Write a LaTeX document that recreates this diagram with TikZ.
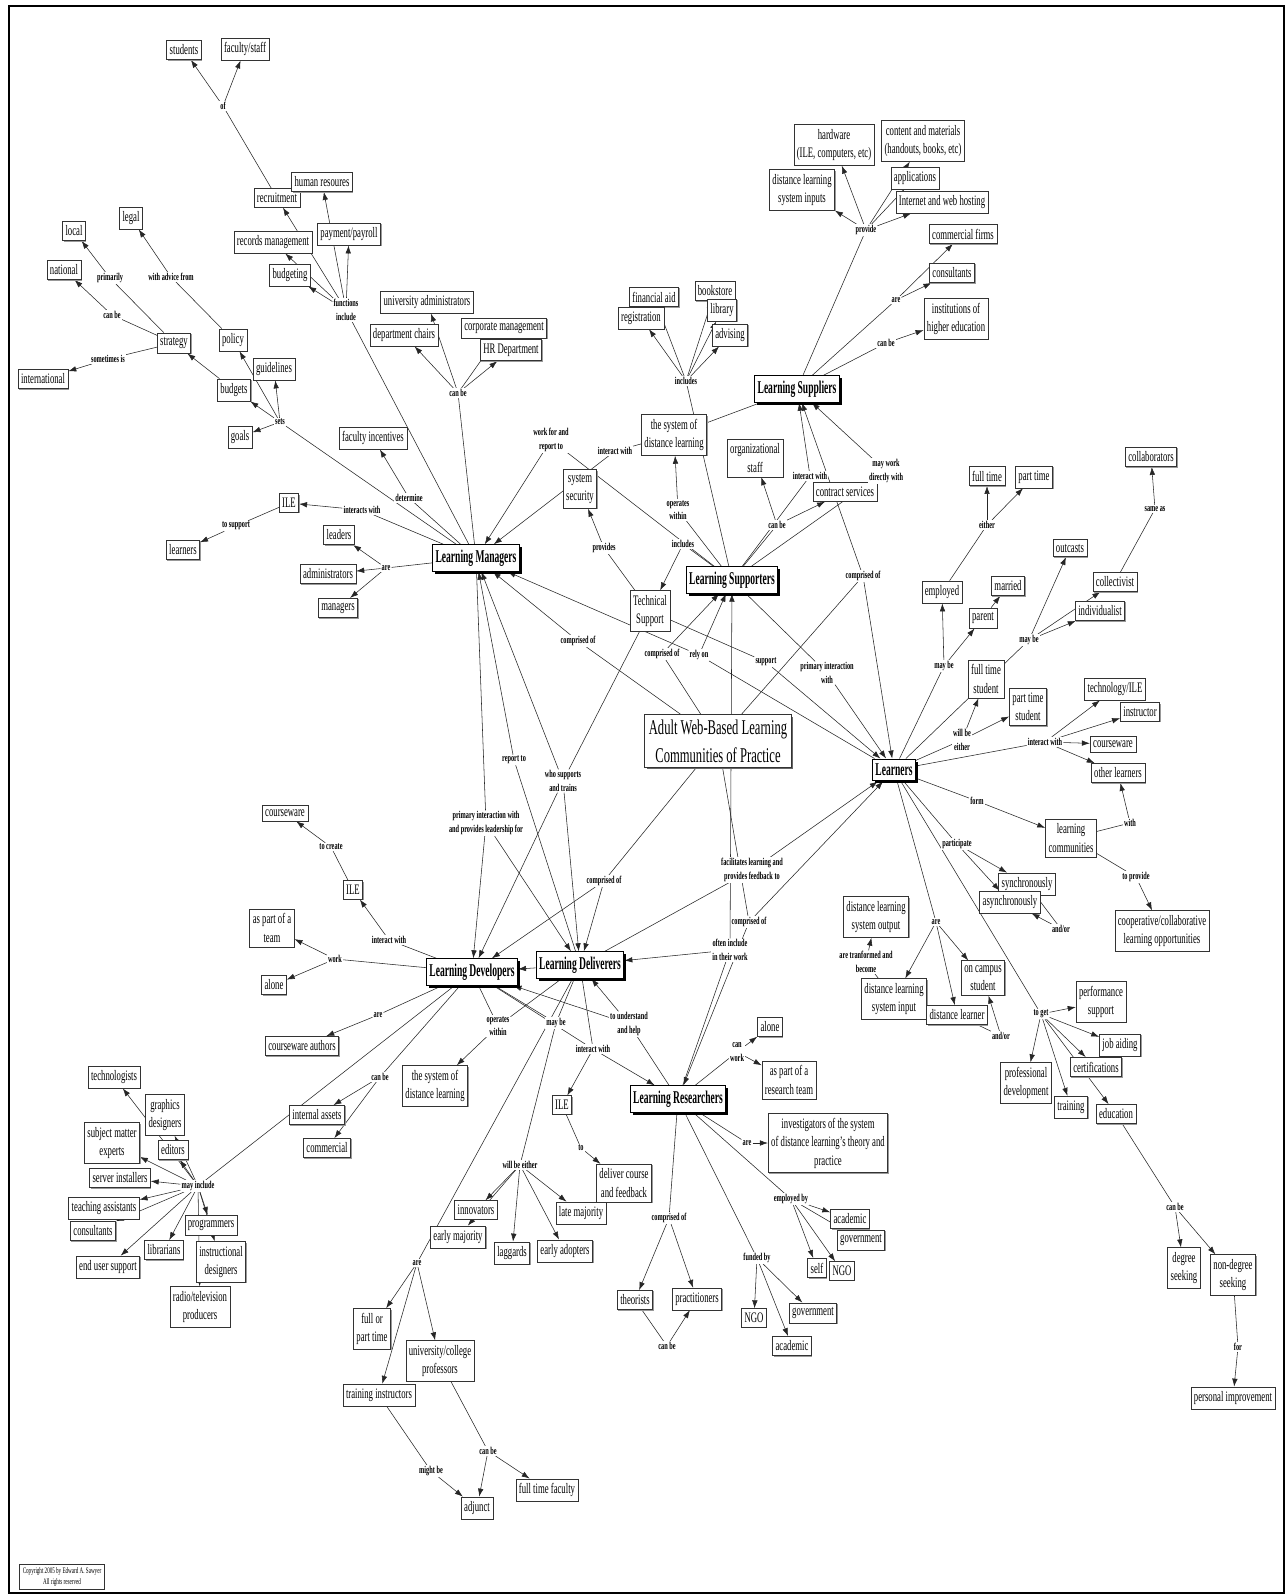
\documentclass[tikz,border=0pt]{standalone}
\usepackage{fontspec}
\setmainfont{Liberation Serif}[FakeStretch=0.6]
\newfontfamily\mbf{Liberation Serif}[FakeStretch=0.6]
\newfontfamily\hbf{Liberation Serif}[FakeStretch=0.53]
\usetikzlibrary{arrows.meta,shadows}
\pgfdeclarelayer{back}
\pgfdeclarelayer{bg}
\pgfsetlayers{back,bg,main}
\begin{document}
\begin{tikzpicture}[x=1pt,y=-1pt,
 box/.style={draw=black!80, fill=white, line width=0.6pt, inner xsep=3pt, inner ysep=4.5pt, align=center,
   font=\fontsize{14.5}{18.5}\selectfont, drop shadow={shadow xshift=1pt, shadow yshift=-1pt, fill=black!40, opacity=1}},
 mainbox/.style={draw=black, fill=white, line width=1pt, inner xsep=3pt, inner ysep=5pt, align=center,
   font=\hbf\bfseries\fontsize{18}{20}\selectfont, drop shadow={shadow xshift=2.5pt, shadow yshift=-2.5pt, fill=black, opacity=1}},
 lab/.style={fill=white, inner sep=1pt, align=center, font=\mbf\bfseries\fontsize{10.5}{13.5}\selectfont},
 ln/.style={draw=black!85, line width=0.55pt},
 ar/.style={ln, -{Latex[length=8pt,width=5.5pt]}}]
\useasboundingbox (0,0) rectangle (1288,1596);
\begin{pgfonlayer}{back}
\fill[white] (0,0) rectangle (1288,1596);
\end{pgfonlayer}
\draw[line width=2.5pt] (9,6) rectangle (1284,1593);

% main concepts
\node[box, line width=1pt, inner xsep=4pt, inner ysep=5pt, font=\fontsize{21}{28}\selectfont, drop shadow={shadow xshift=2pt, shadow yshift=-2pt, fill=black!60, opacity=1}] (adult) at (718,741) {Adult Web-Based Learning\\Communities of Practice};
\node[mainbox] (lm) at (476,558) {Learning Managers};
\node[mainbox] (lsup) at (732,580) {Learning Supporters};
\node[mainbox] (lsupl) at (797,389) {Learning Suppliers};
\node[mainbox] (lrn) at (894,770) {Learners};
\node[mainbox] (ldev) at (472,972) {Learning Developers};
\node[mainbox] (ldel) at (580,965) {Learning Deliverers};
\node[mainbox] (lres) at (678,1099) {Learning Researchers};

% concept boxes
\node[box] (t1) at (184,50) {students};
\node[box] (t2) at (245,49) {faculty/staff};
\node[box] (t3) at (277,198) {recruitment};
\node[box] (t4) at (322,182) {human resoures};
\node[box] (t5) at (273,242) {records management};
\node[box] (t6) at (349,234) {payment/payroll};
\node[box] (t7) at (290,275) {budgeting};
\node[box] (t8) at (74,231) {local};
\node[box] (t9) at (131,218) {legal};
\node[box] (t10) at (64,270) {national};
\node[box] (t11) at (174,343) {strategy};
\node[box] (t12) at (233,340) {policy};
\node[box] (t13) at (43,379) {international};
\node[box] (t14) at (274,369) {guidelines};
\node[box] (t15) at (234,390) {budgets};
\node[box] (t16) at (240,437) {goals};
\node[box] (t17) at (373,438) {faculty incentives};
\node[box] (t18) at (289,503) {ILE};
\node[box] (t19) at (183,550) {learners};
\node[box] (t20) at (339,535) {leaders};
\node[box] (t21) at (328,574) {administrators};
\node[box] (t22) at (338,608) {managers};
\node[box] (t23) at (427,302) {university administrators};
\node[box] (t24) at (404,335) {department chairs};
\node[box] (t25) at (504,328) {corporate management};
\node[box] (t26) at (511,350) {HR Department};
\node[box] (t27) at (654,297) {financial aid};
\node[box] (t28) at (641,318) {registration};
\node[box] (t29) at (715,291) {bookstore};
\node[box] (t30) at (722,310) {library};
\node[box] (t31) at (730,335) {advising};
\node[box] (t32) at (834,145) {hardware\\(ILE, computers, etc)};
\node[box] (t33) at (802,190) {distance learning\\system inputs};
\node[box] (t34) at (923,141) {content and materials\\(handouts, books, etc)};
\node[box] (t35) at (915,178) {applications};
\node[box] (t36) at (942,202) {Internet and web hosting};
\node[box] (t37) at (963,234) {commercial firms};
\node[box] (t38) at (952,273) {consultants};
\node[box] (t39) at (956,319) {institutions of\\higher education};
\node[box] (t40) at (580,489) {system\\security};
\node[box] (t41) at (674,435) {the system of\\distance learning};
\node[box] (t42) at (755,458) {organizational\\staff};
\node[box] (t43) at (845,492) {contract services};
\node[box] (t44) at (650,611) {Technical\\Support};
\node[box] (t45) at (987,476) {full time};
\node[box] (t46) at (1034,477) {part time};
\node[box] (t47) at (1151,457) {collaborators};
\node[box] (t48) at (1070,548) {outcasts};
\node[box] (t49) at (1115,582) {collectivist};
\node[box] (t50) at (1100,611) {individualist};
\node[box] (t51) at (942,592) {employed};
\node[box] (t52) at (1008,586) {married};
\node[box] (t53) at (983,618) {parent};
\node[box] (t54) at (986,679) {full time\\student};
\node[box] (t55) at (1028,707) {part time\\student};
\node[box] (t56) at (1115,689) {technology/ILE};
\node[box] (t57) at (1140,712) {instructor};
\node[box] (t58) at (1113,744) {courseware};
\node[box] (t59) at (1118,773) {other learners};
\node[box] (t60) at (1071,838) {learning\\communities};
\node[box] (t61) at (1162,931) {cooperative/collaborative\\learning opportunities};
\node[box] (t62) at (1027,884) {synchronously};
\node[box] (t63) at (1010,902) {asynchronously};
\node[box] (t64) at (876,917) {distance learning\\system output};
\node[box] (t65) at (894,999) {distance learning\\system input};
\node[box] (t66) at (983,978) {on campus\\student};
\node[box] (t67) at (957,1015) {distance learner};
\node[box] (t68) at (1101,1002) {performance\\support};
\node[box] (t69) at (1120,1045) {job aiding};
\node[box] (t70) at (1096,1067) {certifications};
\node[box] (t71) at (1026,1083) {professional\\development};
\node[box] (t72) at (1071,1107) {training};
\node[box] (t73) at (1116,1114) {education};
\node[box] (t74) at (1184,1268) {degree\\seeking};
\node[box] (t75) at (1233,1275) {non-degree\\seeking};
\node[box] (t76) at (1233,1398) {personal improvement};
\node[box] (t77) at (285,813) {courseware};
\node[box] (t78) at (353,890) {ILE};
\node[box] (t79) at (272,928) {as part of a\\team};
\node[box] (t80) at (274,985) {alone};
\node[box] (t81) at (302,1046) {courseware authors};
\node[box] (t82) at (317,1115) {internal assets};
\node[box] (t83) at (327,1148) {commercial};
\node[box] (t84) at (435,1086) {the system of\\distance learning};
\node[box] (t85) at (114,1077) {technologists};
\node[box] (t86) at (165,1115) {graphics\\designers};
\node[box] (t87) at (112,1143) {subject matter\\experts};
\node[box] (t88) at (173,1150) {editors};
\node[box] (t89) at (120,1178) {server installers};
\node[box] (t90) at (104,1208) {teaching assistants};
\node[box] (t91) at (93,1231) {consultants};
\node[box] (t92) at (211,1225) {programmers};
\node[box] (t93) at (164,1250) {librarians};
\node[box] (t94) at (108,1267) {end user support};
\node[box] (t95) at (221,1262) {instructional\\designers};
\node[box] (t96) at (200,1307) {radio/television\\producers};
\node[box] (t97) at (372,1329) {full or\\part time};
\node[box] (t98) at (440,1361) {university/college\\professors};
\node[box] (t99) at (379,1395) {training instructors};
\node[box] (t100) at (477,1508) {adjunct};
\node[box] (t101) at (547,1490) {full time faculty};
\node[box] (t102) at (770,1027) {alone};
\node[box] (t103) at (789,1080) {as part of a\\research team};
\node[box] (t104) at (562,1105) {ILE};
\node[box] (t105) at (828,1143) {investigators of the system\\of distance learning's theory and\\practice};
\node[box] (t106) at (624,1183) {deliver course\\and feedback};
\node[box] (t107) at (476,1210) {innovators};
\node[box] (t108) at (581,1213) {late majority};
\node[box] (t109) at (458,1237) {early majority};
\node[box] (t110) at (512,1253) {laggards};
\node[box] (t111) at (565,1251) {early adopters};
\node[box] (t112) at (635,1300) {theorists};
\node[box] (t113) at (697,1299) {practitioners};
\node[box] (t114) at (754,1318) {NGO};
\node[box] (t115) at (813,1313) {government};
\node[box] (t116) at (792,1346) {academic};
\node[box] (t117) at (817,1268) {self};
\node[box] (t118) at (842,1271) {NGO};
\node[box] (t119) at (850,1219) {academic};
\node[box] (t120) at (861,1240) {government};
\node[draw=black!80, fill=white, line width=0.6pt, inner sep=3pt, align=center, font=\fontsize{8.5}{11.5}\selectfont] (copy) at (62,1577) {Copyright 2005 by Edward A. Sawyer\\All rights reserved};

% link labels
\node[lab] (lof) at (223,106) {of};
\node[lab] (lfi) at (346,310) {functions\\include};
\node[lab] (lprim) at (110,278) {primarily};
\node[lab] (lwaf) at (171,277) {with advice from};
\node[lab] (lcb1) at (112,315) {can be};
\node[lab] (lsome) at (108,359) {sometimes is};
\node[lab] (lsets) at (280,422) {sets};
\node[lab] (ldet) at (409,498) {determine};
\node[lab] (lintw) at (362,510) {interacts with};
\node[lab] (ltos) at (236,526) {to support};
\node[lab] (lare1) at (386,568) {are};
\node[lab] (lcb2) at (458,393) {can be};
\node[lab] (linc1) at (686,381) {includes};
\node[lab] (lprov) at (866,230) {provide};
\node[lab] (lare2) at (896,300) {are};
\node[lab] (lcb3) at (886,343) {can be};
\node[lab] (lwfrt) at (551,440) {work for and\\report to};
\node[lab] (lia1) at (615,451) {interact with};
\node[lab] (lia2) at (810,476) {interact with};
\node[lab] (low1) at (678,510) {operates\\within};
\node[lab] (lprovs) at (604,548) {provides};
\node[lab] (linc2) at (683,544) {includes};
\node[lab] (lcb4) at (777,525) {can be};
\node[lab] (lmwdw) at (886,471) {may work\\directly with};
\node[lab] (lco1) at (578,641) {comprised of};
\node[lab] (lco2) at (662,654) {comprised of};
\node[lab] (lrely) at (699,655) {rely on};
\node[lab] (lsupp) at (766,662) {support};
\node[lab] (lpiw) at (827,673) {primary interaction\\with};
\node[lab] (lco3) at (863,576) {comprised of};
\node[lab] (lrep) at (514,760) {report to};
\node[lab] (lwsat) at (563,781) {who supports\\and trains};
\node[lab] (leith) at (987,525) {either};
\node[lab] (lsame) at (1155,509) {same as};
\node[lab] (lmb1) at (1029,640) {may be};
\node[lab] (lmb2) at (944,666) {may be};
\node[lab] (lwbe1) at (962,740) {will be\\either};
\node[lab] (lia3) at (1045,742) {interact with};
\node[lab] (lform) at (977,801) {form};
\node[lab] (lwith) at (1130,823) {with};
\node[lab] (ltop) at (1136,877) {to provide};
\node[lab] (lpart) at (957,844) {participate};
\node[lab] (lao1) at (1061,929) {and/or};
\node[lab] (lare3) at (936,922) {are};
\node[lab] (latab) at (866,962) {are tranformed and\\become};
\node[lab] (lao2) at (1001,1036) {and/or};
\node[lab] (lget) at (1041,1014) {to get};
\node[lab] (lcb5) at (1175,1207) {can be};
\node[lab] (lfor) at (1238,1347) {for};
\node[lab] (ltoc) at (331,847) {to create};
\node[lab] (lia4) at (389,940) {interact with};
\node[lab] (lwork) at (335,959) {work};
\node[lab] (lare4) at (378,1015) {are};
\node[lab] (lcb6) at (380,1077) {can be};
\node[lab] (lmayi) at (198,1186) {may include};
\node[lab] (lpiwpl) at (486,823) {primary interaction with\\and provides leadership for};
\node[lab] (lco4) at (604,881) {comprised of};
\node[lab] (lflpf) at (752,870) {facilitates learning and\\provides feedback to};
\node[lab] (lco5) at (749,922) {comprised of};
\node[lab] (loft) at (730,950) {often include\\in their work};
\node[lab] (low2) at (498,1026) {operates\\within};
\node[lab] (lmb3) at (556,1023) {may be};
\node[lab] (ltuah) at (629,1024) {to understand\\and help};
\node[lab] (lia5) at (593,1049) {interact with};
\node[lab] (lcw) at (737,1052) {can\\work};
\node[lab] (lare5) at (747,1143) {are};
\node[lab] (lto) at (581,1148) {to};
\node[lab] (lwbe2) at (520,1165) {will be either};
\node[lab] (lemp) at (791,1199) {employed by};
\node[lab] (lco6) at (669,1218) {comprised of};
\node[lab] (lfund) at (757,1258) {funded by};
\node[lab] (lcb7) at (667,1346) {can be};
\node[lab] (lare6) at (417,1263) {are};
\node[lab] (lmight) at (431,1471) {might be};
\node[lab] (lcb8) at (488,1451) {can be};

\begin{pgfonlayer}{bg}
% top left
\draw[ln] (t3) -- (lof); \foreach \n in {t1,t2} \draw[ar] (lof) -- (\n);
\draw[ln] (lm) -- (lfi); \foreach \n in {t3,t4,t5,t6,t7} \draw[ar] (lfi) -- (\n);
\draw[ln] (t12) -- (lwaf); \draw[ar] (lwaf) -- (t9);
\draw[ln] (t11) -- (lprim); \draw[ar] (lprim) -- (t8);
\draw[ln] (t11) -- (lcb1); \draw[ar] (lcb1) -- (t10);
\draw[ln] (t11) -- (lsome); \draw[ar] (lsome) -- (t13);
\draw[ar] (t15) -- (t11);
\draw[ln] (lm) -- (lsets); \foreach \n in {t12,t14,t15,t16} \draw[ar] (lsets) -- (\n);
\draw[ln] (lm) -- (ldet); \draw[ar] (ldet) -- (t17);
\draw[ln] (lm) -- (lintw); \draw[ar] (lintw) -- (t18);
\draw[ln] (t18) -- (ltos); \draw[ar] (ltos) -- (t19);
\draw[ln] (lm) -- (lare1); \foreach \n in {t20,t21,t22} \draw[ar] (lare1) -- (\n);
\draw[ln] (lm) -- (lcb2); \foreach \n in {t23,t24,t25,t26} \draw[ar] (lcb2) -- (\n);
% top centre / right
\draw[ln] (lsup) -- (linc1); \foreach \n in {t27,t28,t29,t30,t31} \draw[ar] (linc1) -- (\n);
\draw[ln] (lsupl) -- (lprov); \foreach \n in {t32,t33,t34,t35,t36} \draw[ar] (lprov) -- (\n);
\draw[ln] (lsupl) -- (lare2); \foreach \n in {t37,t38} \draw[ar] (lare2) -- (\n);
\draw[ln] (lsupl) -- (lcb3); \draw[ar] (lcb3) -- (t39);
\draw[ln] (t41) -- (lsupl);
\draw[ln] (lsup) -- (lwfrt); \draw[ar] (lwfrt) -- (lm);
\draw[ln] (t41) -- (lia1); \draw[ar] (lia1) -- (lm);
\draw[ln] (lsup) -- (low1); \draw[ar] (low1) -- (t41);
\draw[ln] (t44) -- (lprovs); \draw[ar] (lprovs) -- (t40);
\draw[ln] (lsup) -- (linc2); \draw[ar] (linc2) -- (t44);
\draw[ln] (lsup) -- (lcb4); \foreach \n in {t42,t43} \draw[ar] (lcb4) -- (\n);
\draw[ln] (lsup) -- (lia2); \draw[ar] (lia2) -- (lsupl);
\draw[ln] (lsup) -- (lmwdw); \draw[ar] (lmwdw) -- (lsupl);
% centre
\draw[ln] (adult) -- (lco1); \draw[ar] (lco1) -- (lm);
\draw[ln] (adult) -- (lco2); \draw[ar] (lco2) -- (lsup);
\draw[ln] (lrn) -- (lrely); \draw[ar] (lrely) -- (lsup); \draw[ar] (lrely) -- (lm);
\draw[ln] (t44) -- (lsupp); \draw[ar] (lsupp) -- (lrn);
\draw[ln] (lsup) -- (lpiw); \draw[ar] (lpiw) -- (lrn);
\draw[ln] (adult) -- (lco3); \draw[ar] (lco3) -- (lsupl); \draw[ar] (lco3) -- (lrn);
\draw[ln] (ldel) -- (lrep); \draw[ar] (lrep) -- (lm);
\draw[ln] (t44) -- (lwsat); \foreach \n in {lm,ldev,ldel} \draw[ar] (lwsat) -- (\n);
\draw[ln] (lm) -- (lpiwpl); \foreach \n in {ldev,ldel} \draw[ar] (lpiwpl) -- (\n);
\draw[ln] (adult) -- (lco4); \foreach \n in {ldev,ldel} \draw[ar] (lco4) -- (\n);
\draw[ln] (ldel) -- (lflpf); \draw[ar] (lflpf) -- (lrn);
\draw[ln] (adult) -- (lco5); \draw[ar] (lco5) -- (lres); \draw[ar] (lco5) -- (lrn);
\draw[ln] (lres) -- (loft); \draw[ar] (loft) -- (ldel); \draw[ar] (loft) -- (lsup);
\draw[ar] (ldel) -- (ldev);
% learners
\draw[ln] (lrn) -- (lmb2); \foreach \n in {t51,t53} \draw[ar] (lmb2) -- (\n);
\draw[ar] (t53) -- (t52);
\draw[ln] (t51) -- (leith); \foreach \n in {t45,t46} \draw[ar] (leith) -- (\n);
\draw[ln] (lrn) -- (lmb1); \foreach \n in {t48,t49,t50} \draw[ar] (lmb1) -- (\n);
\draw[ln] (t49) -- (lsame); \draw[ar] (lsame) -- (t47);
\draw[ln] (lrn) -- (lwbe1); \foreach \n in {t54,t55} \draw[ar] (lwbe1) -- (\n);
\draw[ln] (lrn) -- (lia3); \foreach \n in {t56,t57,t58,t59} \draw[ar] (lia3) -- (\n);
\draw[ln] (lrn) -- (lform); \draw[ar] (lform) -- (t60);
\draw[ln] (t60) -- (lwith); \draw[ar] (lwith) -- (t59);
\draw[ln] (t60) -- (ltop); \draw[ar] (ltop) -- (t61);
\draw[ln] (lrn) -- (lpart); \foreach \n in {t62,t63} \draw[ar] (lpart) -- (\n);
\draw[ln] (t62) -- (lao1); \draw[ar] (lao1) -- (t63);
\draw[ln] (lrn) -- (lare3); \foreach \n in {t65,t66,t67} \draw[ar] (lare3) -- (\n);
\draw[ln] (t65) -- (latab); \draw[ar] (latab) -- (t64);
\draw[ln] (t67) -- (lao2); \draw[ar] (lao2) -- (t66);
\draw[ln] (lrn) -- (lget); \foreach \n in {t68,t69,t70,t71,t72,t73} \draw[ar] (lget) -- (\n);
\draw[ln] (t73) -- (lcb5); \foreach \n in {t74,t75} \draw[ar] (lcb5) -- (\n);
\draw[ln] (t75) -- (lfor); \draw[ar] (lfor) -- (t76);
% developers
\draw[ln] (t78) -- (ltoc); \draw[ar] (ltoc) -- (t77);
\draw[ln] (ldev) -- (lia4); \draw[ar] (lia4) -- (t78);
\draw[ln] (ldev) -- (lwork); \foreach \n in {t79,t80} \draw[ar] (lwork) -- (\n);
\draw[ln] (ldev) -- (lare4); \draw[ar] (lare4) -- (t81);
\draw[ln] (ldev) -- (lcb6); \foreach \n in {t82,t83} \draw[ar] (lcb6) -- (\n);
\draw[ln] (ldev) -- (lmayi); \foreach \n in {t85,t86,t87,t88,t89,t90,t91,t92,t93,t94,t95,t96} \draw[ar] (lmayi) -- (\n);
\draw[ln] (ldev) -- (low2); \draw[ln] (ldel) -- (low2); \draw[ar] (low2) -- (t84);
\draw[ln] (ldev) -- (lmb3); \draw[ln] (ldel) -- (lmb3); \draw[ln] (lmb3) -- (lwbe2);
\foreach \n in {t107,t108,t109,t110,t111} \draw[ar] (lwbe2) -- (\n);
\draw[ln] (ldel) -- (lare6); \foreach \n in {t97,t98,t99} \draw[ar] (lare6) -- (\n);
\draw[ln] (t99) -- (lmight); \draw[ar] (lmight) -- (t100);
\draw[ln] (t98) -- (lcb8); \foreach \n in {t100,t101} \draw[ar] (lcb8) -- (\n);
% researchers
\draw[ln] (lres) -- (ltuah); \foreach \n in {ldev,ldel} \draw[ar] (ltuah) -- (\n);
\draw[ln] (ldev) -- (lia5); \draw[ln] (ldel) -- (lia5); \draw[ar] (lia5) -- (t104); \draw[ar] (lia5) -- (lres);
\draw[ln] (t104) -- (lto); \draw[ar] (lto) -- (t106);
\draw[ln] (lres) -- (lcw); \foreach \n in {t102,t103} \draw[ar] (lcw) -- (\n);
\draw[ln] (lres) -- (lare5); \draw[ar] (lare5) -- (t105);
\draw[ln] (lres) -- (lemp); \foreach \n in {t117,t118,t119,t120} \draw[ar] (lemp) -- (\n);
\draw[ln] (lres) -- (lfund); \foreach \n in {t114,t115,t116} \draw[ar] (lfund) -- (\n);
\draw[ln] (lres) -- (lco6); \foreach \n in {t112,t113} \draw[ar] (lco6) -- (\n);
\draw[ln] (t112) -- (lcb7); \draw[ar] (lcb7) -- (t113);
\end{pgfonlayer}
\end{tikzpicture}
\end{document}
